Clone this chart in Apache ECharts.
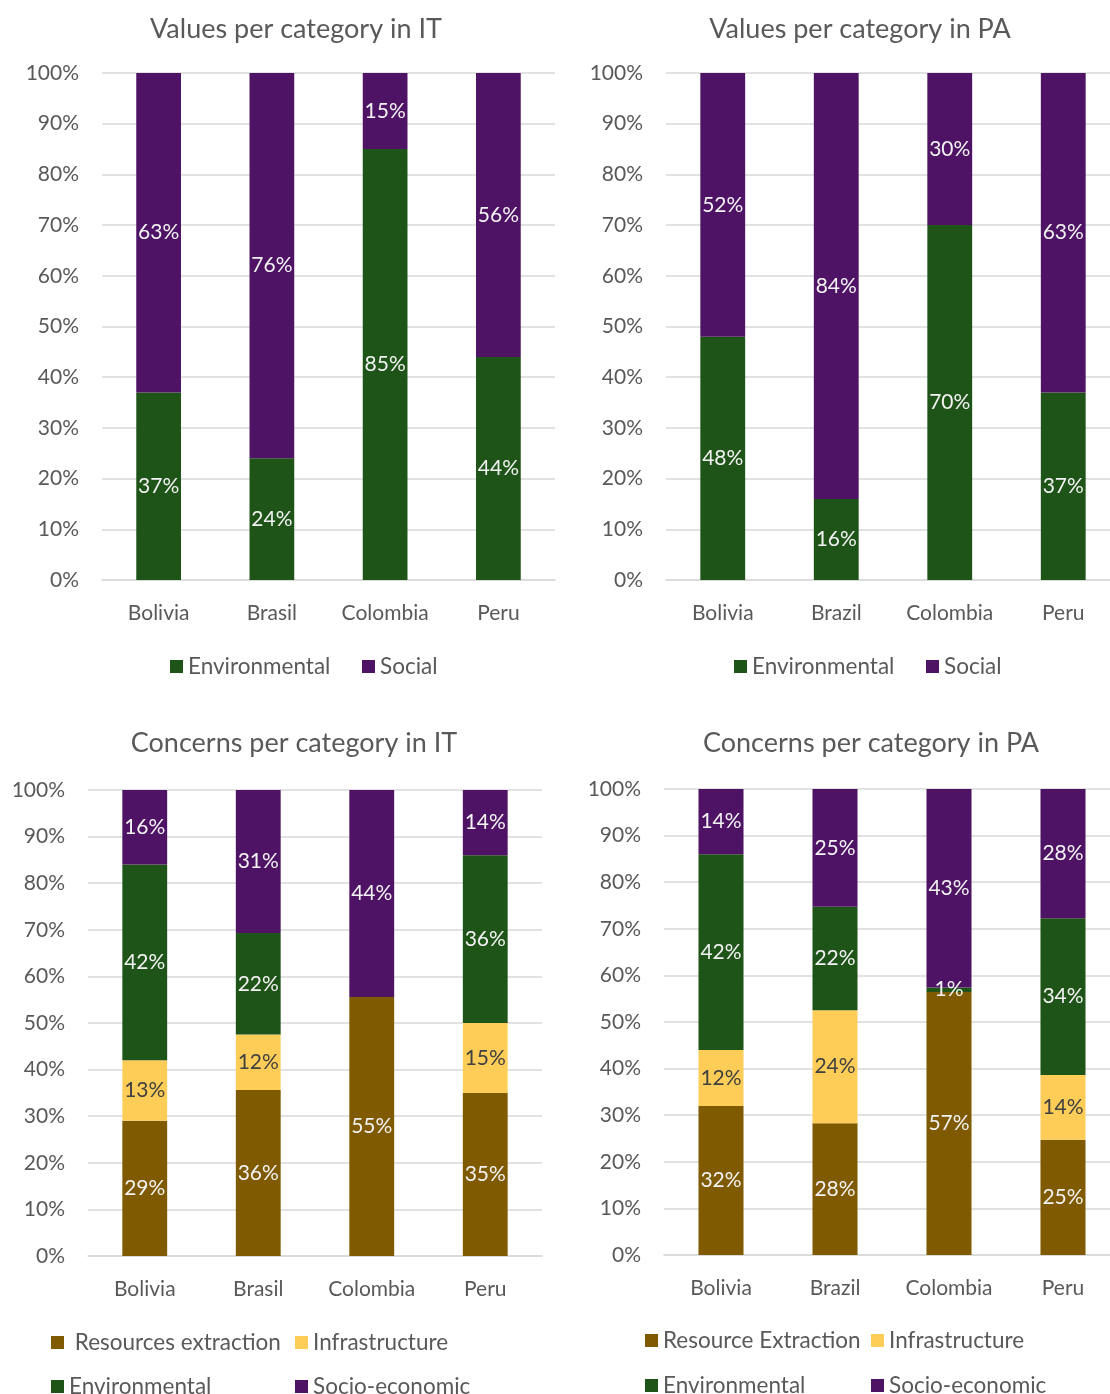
<!DOCTYPE html>
<html>
<head>
<meta charset="utf-8">
<script src="https://cdn.jsdelivr.net/npm/echarts@6/dist/echarts.min.js"></script>
<style>
  html, body { margin: 0; padding: 0; background: #ffffff; }
  #chart { width: 1110px; height: 1394px; }
</style>
</head>
<body>
<div id="chart"></div>
<script>
// Categories
const countriesIT = ['Bolivia', 'Brasil', 'Colombia', 'Peru'];
const countriesPA = ['Bolivia', 'Brazil', 'Colombia', 'Peru'];

// Values per category (percent shares)
const valuesITEnvironmental = [37, 24, 85, 44];
const valuesITSocial = [63, 76, 15, 56];
const valuesPAEnvironmental = [48, 16, 70, 37];
const valuesPASocial = [52, 84, 30, 63];

// Concerns per category (percent shares)
const concernsITResources = [29, 36, 55, 35];
const concernsITInfrastructure = [13, 12, 0, 15];
const concernsITEnvironmental = [42, 22, 0, 36];
const concernsITSocio = [16, 31, 44, 14];
const concernsPAResources = [32, 28, 57, 25];
const concernsPAInfrastructure = [12, 24, 0, 14];
const concernsPAEnvironmental = [42, 22, 1, 34];
const concernsPASocio = [14, 25, 43, 28];

// Y axis tick labels
const yTicks = ['0%', '10%', '20%', '30%', '40%', '50%', '60%', '70%', '80%', '90%', '100%'];

const FONT = 'Lato, "Open Sans", sans-serif';
const C = {
  env: '#1f5419',
  social: '#4f1366',
  res: '#7f5a00',
  infra: '#fdcd58',
  text: '#595959'
};

// 100% stacked: each column is scaled to a total of 100
function normalize(seriesList) {
  const n = seriesList[0].length;
  const totals = [];
  for (let i = 0; i < n; i++) {
    totals.push(seriesList.reduce((s, arr) => s + arr[i], 0));
  }
  return seriesList.map(arr => arr.map((v, i) => ({ value: v / totals[i] * 100, raw: v })));
}

const grids = [
  { left: 102, top: 73, width: 453, height: 507 },
  { left: 666, top: 73, width: 454, height: 507 },
  { left: 88, top: 790, width: 454, height: 466 },
  { left: 664, top: 789, width: 456, height: 466 }
].map(g => Object.assign(g, { outerBoundsMode: 'none', containLabel: false }));

const xAxis = grids.map((g, i) => ({
  type: 'category',
  gridIndex: i,
  data: (i % 2 === 0) ? countriesIT : countriesPA,
  axisLine: { show: true, lineStyle: { color: '#d9d9d9', width: 1.5 } },
  axisTick: { show: false },
  axisLabel: { color: C.text, fontFamily: FONT, fontSize: 21, margin: 23, interval: 0, hideOverlap: false }
}));

const yAxis = grids.map((g, i) => ({
  type: 'value',
  gridIndex: i,
  min: 0, max: 100, interval: 10,
  axisLine: { show: false },
  axisTick: { show: false },
  splitLine: { lineStyle: { color: '#d9d9d9', width: 1.5 } },
  axisLabel: {
    color: C.text, fontFamily: FONT, fontSize: 21, margin: 23,
    formatter: v => yTicks[Math.round(v / 10)]
  }
}));

function makeSeries(name, items, color, gridIndex, stack, labelColor) {
  return {
    type: 'bar',
    name: name,
    xAxisIndex: gridIndex,
    yAxisIndex: gridIndex,
    stack: stack,
    barWidth: '39.5%',
    data: items,
    itemStyle: { color: color },
    label: {
      show: true,
      position: 'inside',
      color: labelColor || '#f2f2f2',
      fontFamily: FONT,
      fontSize: 21,
      formatter: p => (p.data.raw > 0 ? p.data.raw + '%' : '')
    },
    emphasis: { disabled: true }
  };
}

const vIT = normalize([valuesITEnvironmental, valuesITSocial]);
const vPA = normalize([valuesPAEnvironmental, valuesPASocial]);
const cIT = normalize([concernsITResources, concernsITInfrastructure, concernsITEnvironmental, concernsITSocio]);
const cPA = normalize([concernsPAResources, concernsPAInfrastructure, concernsPAEnvironmental, concernsPASocio]);

const series = [
  makeSeries('Environmental', vIT[0], C.env, 0, 'vit'),
  makeSeries('Social', vIT[1], C.social, 0, 'vit'),
  makeSeries('Environmental', vPA[0], C.env, 1, 'vpa'),
  makeSeries('Social', vPA[1], C.social, 1, 'vpa'),
  makeSeries('Resources extraction', cIT[0], C.res, 2, 'cit'),
  makeSeries('Infrastructure', cIT[1], C.infra, 2, 'cit', '#404040'),
  makeSeries('Environmental', cIT[2], C.env, 2, 'cit'),
  makeSeries('Socio-economic', cIT[3], C.social, 2, 'cit'),
  makeSeries('Resource Extraction', cPA[0], C.res, 3, 'cpa'),
  makeSeries('Infrastructure', cPA[1], C.infra, 3, 'cpa', '#404040'),
  makeSeries('Environmental', cPA[2], C.env, 3, 'cpa'),
  makeSeries('Socio-economic', cPA[3], C.social, 3, 'cpa')
];

function titleAt(text, x, y) {
  return {
    text: text,
    left: x,
    top: y,
    textAlign: 'center',
    textStyle: { color: C.text, fontFamily: FONT, fontSize: 27, fontWeight: 'normal' }
  };
}

function legendAt(name, x, y, lead) {
  return {
    data: [name],
    left: x,
    top: y,
    icon: 'rect',
    itemWidth: 13,
    itemHeight: 13,
    itemGap: 8,
    selectedMode: false,
    formatter: n => (lead ? ' ' + n : n),
    textStyle: { color: C.text, fontFamily: FONT, fontSize: 22.5 }
  };
}

const option = {
  animation: false,
  backgroundColor: '#ffffff',
  title: [
    titleAt('Values per category in IT', 291, 11),
    titleAt('Values per category in PA', 855, 11),
    titleAt('Concerns per category in IT', 289, 725),
    titleAt('Concerns per category in PA', 866, 725)
  ],
  legend: [
    legendAt('Environmental', 165, 650),
    legendAt('Social', 357, 650),
    legendAt('Environmental', 729, 650),
    legendAt('Social', 921, 650),
    legendAt('Resources extraction', 46, 1326, true),
    legendAt('Infrastructure', 290, 1326),
    legendAt('Environmental', 46, 1370),
    legendAt('Socio-economic', 290, 1370),
    legendAt('Resource Extraction', 640, 1324),
    legendAt('Infrastructure', 866, 1324),
    legendAt('Environmental', 640, 1369),
    legendAt('Socio-economic', 866, 1369)
  ],
  grid: grids,
  xAxis: xAxis,
  yAxis: yAxis,
  series: series
};

const chart = echarts.init(document.getElementById('chart'), null, { renderer: 'canvas' });
chart.setOption(option);
</script>
</body>
</html>
